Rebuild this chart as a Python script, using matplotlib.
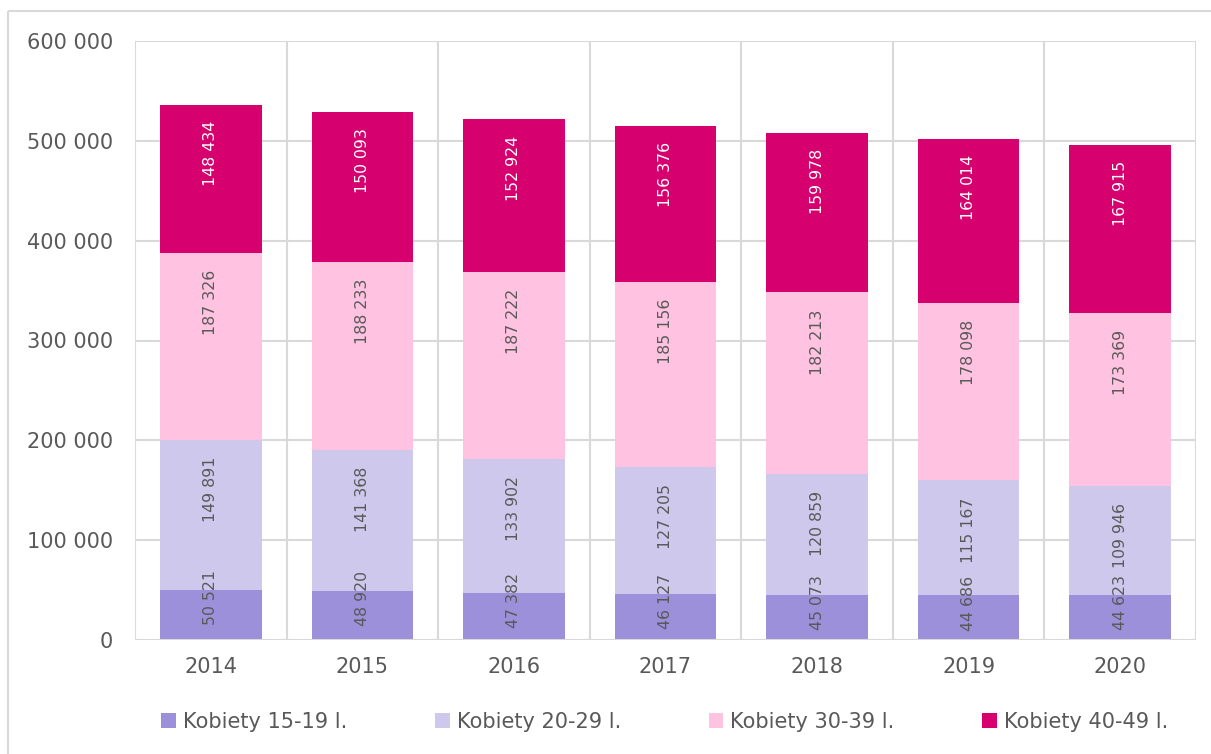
import matplotlib
matplotlib.use("Agg")
import matplotlib.pyplot as plt
import numpy as np
from matplotlib.lines import Line2D

years = ["2014", "2015", "2016", "2017", "2018", "2019", "2020"]
series_names = ["Kobiety 15-19 l.", "Kobiety 20-29 l.", "Kobiety 30-39 l.", "Kobiety 40-49 l."]
k15_19 = [50521, 48920, 47382, 46127, 45073, 44686, 44623]
k20_29 = [149891, 141368, 133902, 127205, 120859, 115167, 109946]
k30_39 = [187326, 188233, 187222, 185156, 182213, 178098, 173369]
k40_49 = [148434, 150093, 152924, 156376, 159978, 164014, 167915]

colors = ["#9B90D9", "#CEC9EC", "#FFC2E0", "#D6006E"]
text_colors = ["#595959", "#595959", "#595959", "white"]
# gap (in data units) between top of a segment and top of its label
label_gaps = [-20000, 17000, 17000, 16000]

plt.rcParams['font.family'] = ['DejaVu Sans']

fig = plt.figure(figsize=(12.11, 7.54), dpi=100)
ax = fig.add_axes([135/1211, 1-640/754, (1196-135)/1211, (640-41)/754])

# outer chart-area border (only top & left visible)
fig.add_artist(Line2D([8/1211, 1.0], [1-11/754, 1-11/754], transform=fig.transFigure,
                      color="#D9D9D9", lw=1.5, solid_capstyle="butt"))
fig.add_artist(Line2D([8/1211, 8/1211], [0, 1-11/754], transform=fig.transFigure,
                      color="#D9D9D9", lw=1.5, solid_capstyle="butt"))

x = np.arange(len(years))
bottom = np.zeros(len(years))
data = [k15_19, k20_29, k30_39, k40_49]
for i, (vals, name) in enumerate(zip(data, series_names)):
    vals = np.array(vals, dtype=float)
    ax.bar(x, vals, 0.67, bottom=bottom, color=colors[i], label=name, zorder=3)
    for xi, b, v in zip(x, bottom, vals):
        top = b + v - label_gaps[i]
        s = f"{int(v):,}".replace(",", " ")
        ax.text(xi, top, s, rotation=90, ha="center", va="top", fontsize=11.3,
                color=text_colors[i], zorder=4)
    bottom += vals

ax.set_xlim(-0.5, len(years) - 0.5)
ax.set_ylim(0, 600000)
ax.set_yticks(np.arange(0, 600001, 100000))
ax.set_yticklabels([f"{v:,}".replace(",", " ") for v in range(0, 600001, 100000)])
ax.set_xticks(x)
ax.set_xticklabels(years)
ax.tick_params(axis="both", length=0, labelsize=15, labelcolor="#595959")
ax.tick_params(axis="y", pad=16)
ax.tick_params(axis="x", pad=12)

ax.grid(axis="y", color="#D9D9D9", lw=1.5, zorder=0)
for b in np.arange(-0.5, len(years), 1.0):
    ax.axvline(b, color="#D9D9D9", lw=1.5, zorder=0)
for sp in ax.spines.values():
    sp.set_visible(False)
ax.axhline(0, color="#D9D9D9", lw=1.5, zorder=5)

leg = fig.legend(loc="center", bbox_to_anchor=(0.549, 1 - 722/754), ncol=4, frameon=False,
                 fontsize=15, handlelength=0.7, handleheight=0.7, handletextpad=0.35,
                 columnspacing=4.2, labelcolor="#595959")

fig.savefig("out.png", dpi=100)
